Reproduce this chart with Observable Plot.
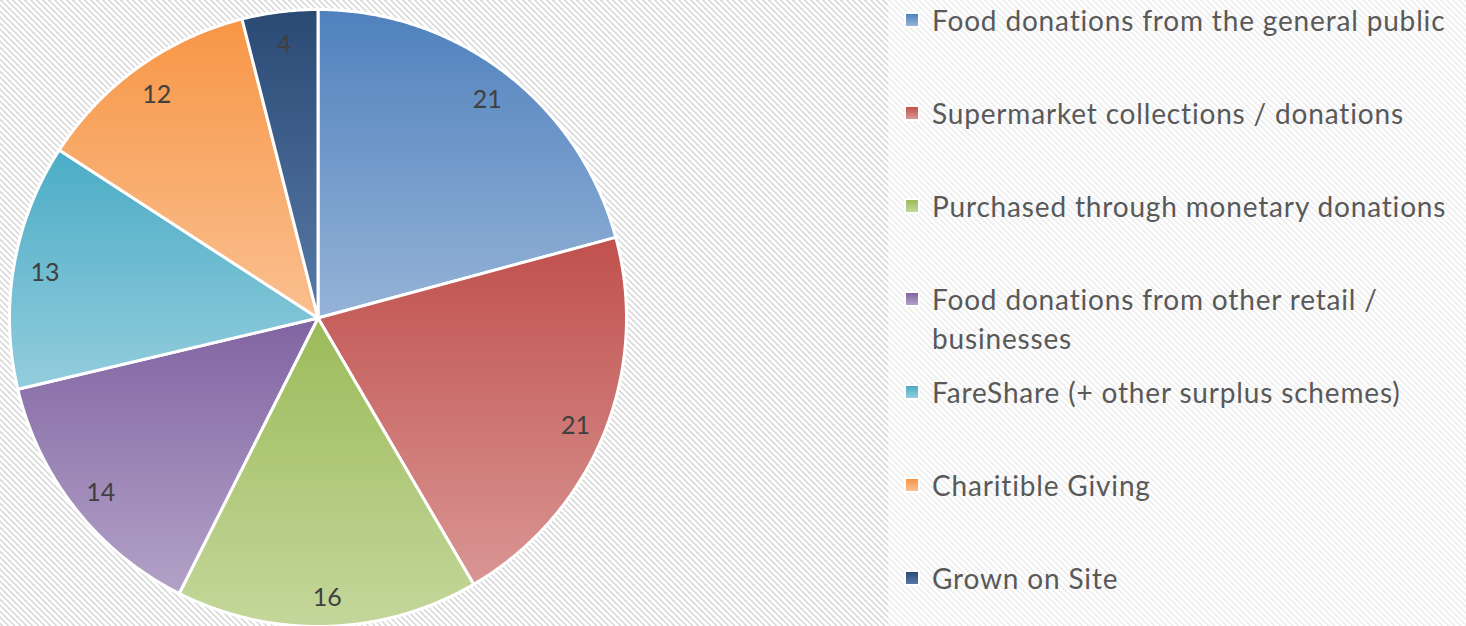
<!DOCTYPE html>
<html>
<head>
<meta charset="utf-8">
<script src="https://cdn.jsdelivr.net/npm/d3@7"></script>
<script src="https://cdn.jsdelivr.net/npm/@observablehq/plot@0.6"></script>
<style>
  html, body { margin: 0; padding: 0; }
  body {
    width: 1466px; height: 626px; overflow: hidden; position: relative;
    font-family: Lato, "Open Sans", sans-serif; background: #fff;
  }
  #chart { position: absolute; left: 0; top: 0; }
  #chart svg { overflow: visible; background: transparent; }
  #legendBox {
    position: absolute; left: 888px; top: 0; width: 578px; height: 626px;
    background: rgba(255,255,255,0.5);
  }
  .item { position: absolute; left: 932px; color: #595959; line-height: 39px; width: 530px; white-space: normal; }
  .key { position: absolute; left: 906px; width: 12px; height: 12px; box-shadow: 0 0 0 2px #fff; }
</style>
</head>
<body>
<div id="legendBox"></div>
<div id="chart"></div>
<div id="legend"></div>
<script>
const categories = [
  "Food donations from the general public",
  "Supermarket collections / donations",
  "Purchased through monetary donations",
  "Food donations from other retail / businesses",
  "FareShare (+ other surplus schemes)",
  "Charitible Giving",
  "Grown on Site"
];
const values = [21, 21, 16, 14, 13, 12, 4];

const topColors = ["#4F81BD", "#C0504D", "#9BBB59", "#8064A2", "#4BACC6", "#F79646", "#2A4A74"];
const bottomColors = ["#95B3D7", "#D99694", "#C4D79B", "#B3A2C7", "#93CDDD", "#FAC090", "#587AA8"];

// background hatch tile (downward diagonal)
(function () {
  const c = document.createElement("canvas");
  c.width = 6; c.height = 6;
  const g = c.getContext("2d");
  g.fillStyle = "#ffffff"; g.fillRect(0, 0, 6, 6);
  for (let y = 0; y < 6; y++) for (let x = 0; x < 6; x++) {
    const m = ((x - y) % 6 + 6) % 6;
    if (m === 0 || m === 1) { g.fillStyle = "#dcdcdc"; g.fillRect(x, y, 1, 1); }
    else if (m === 2) { g.fillStyle = "#efefef"; g.fillRect(x, y, 1, 1); }
  }
  document.body.style.backgroundImage = `url(${c.toDataURL()})`;
})();

const arcs = d3.pie().sort(null).value(d => d)(values);

// slice outlines (sin/cos of d3.pie angles, 12 o'clock start, clockwise)
const rows = [];
arcs.forEach((a, i) => {
  const n = Math.max(2, Math.ceil((a.endAngle - a.startAngle) / (Math.PI / 360)));
  for (let k = 0; k <= n; k++) {
    const t = a.startAngle + (a.endAngle - a.startAngle) * k / n;
    rows.push({cat: categories[i], x: Math.sin(t), y: Math.cos(t), cx: 0, cy: 0});
  }
});
const labels = arcs.map((a, i) => {
  const m = (a.startAngle + a.endAngle) / 2;
  return {cat: categories[i], v: values[i], x: 0.9 * Math.sin(m), y: 0.9 * Math.cos(m)};
});

const plot = Plot.plot({
  width: 890,
  height: 626,
  x: {domain: [-1, 1], range: [9.5, 626.5], axis: null},
  y: {domain: [-1, 1], range: [626.5, 9.5], axis: null},
  color: {type: "ordinal", domain: categories, range: categories.map((d, i) => `url(#grad${i})`)},
  style: {background: "transparent", fontFamily: "Lato, 'Open Sans', sans-serif"},
  marks: [
    Plot.area(rows, {x1: "cx", y1: "cy", x2: "x", y2: "y", z: "cat", fill: "cat",
      stroke: "white", strokeWidth: 3, strokeLinejoin: "round", curve: "linear"}),
    Plot.text(labels, {x: "x", y: "y", text: "v", fill: "#404040", fontSize: 25, dy: 2})
  ]
});

// gradient definitions (vertical, per slice bounding box)
const defs = d3.select(plot).insert("defs", ":first-child");
topColors.forEach((c, i) => {
  const g = defs.append("linearGradient").attr("id", `grad${i}`)
    .attr("x1", 0).attr("y1", 0).attr("x2", 0).attr("y2", 1);
  g.append("stop").attr("offset", "0%").attr("stop-color", c);
  g.append("stop").attr("offset", "100%").attr("stop-color", bottomColors[i]);
});
document.getElementById("chart").appendChild(plot);

// legend
const rowY = [20, 113, 206, 299, 392, 485, 578];
const legend = document.getElementById("legend");
const items = [];
categories.forEach((c, i) => {
  const key = document.createElement("div");
  key.className = "key";
  key.style.top = (rowY[i] - 6) + "px";
  key.style.background = `linear-gradient(${topColors[i]}, ${bottomColors[i]})`;
  legend.appendChild(key);
  const t = document.createElement("div");
  t.className = "item";
  t.style.top = (rowY[i] - 19.5) + "px";
  t.style.fontSize = "28px";
  t.textContent = c;
  legend.appendChild(t);
  items.push(t);
});
// letter spacing so that the first entry spans the same width as the reference
const probe = document.createElement("span");
probe.style.cssText = "position:absolute;visibility:hidden;white-space:nowrap;font-size:28px;font-family:Lato";
probe.textContent = categories[0];
document.body.appendChild(probe);
const w = probe.getBoundingClientRect().width;
const ls = Math.max(0, (513 - w) / (categories[0].length - 1));
items.forEach(t => t.style.letterSpacing = ls + "px");
probe.remove();
</script>
</body>
</html>
